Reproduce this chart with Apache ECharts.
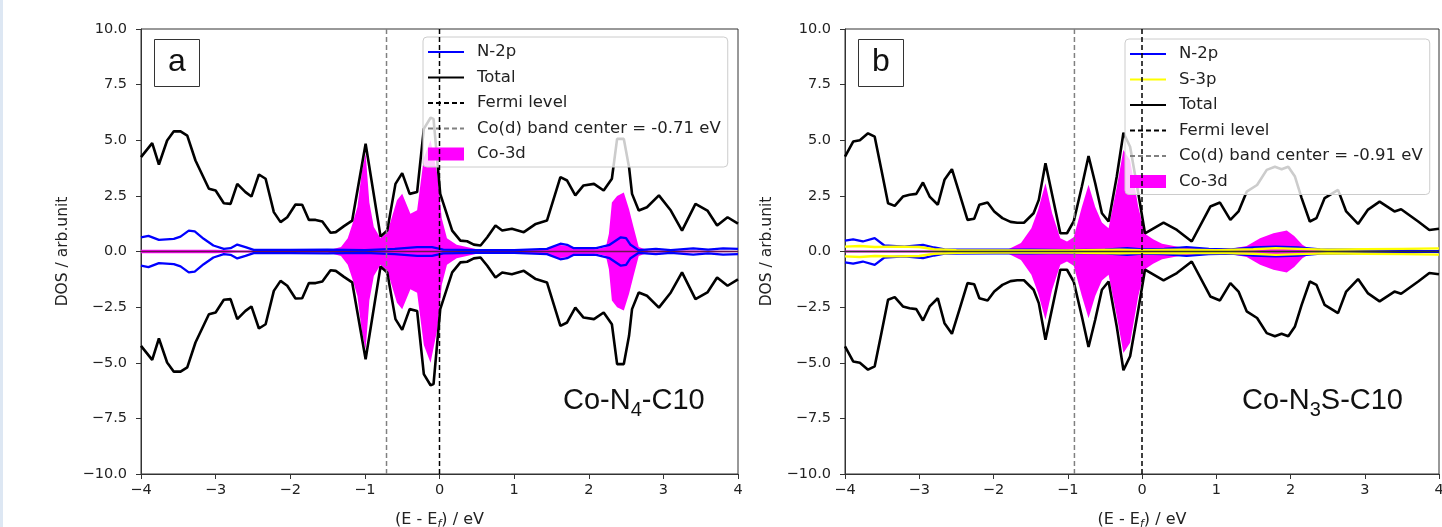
<!DOCTYPE html>
<html>
<head>
<meta charset="utf-8">
<script src="https://cdn.jsdelivr.net/npm/echarts@6/dist/echarts.min.js"></script>
<style>
  html, body { margin: 0; padding: 0; background: #fff; }
  #strip { position: absolute; left: 0; top: 0; width: 3px; height: 527px; background: #dde7f3; }
  #main { position: absolute; left: 0; top: 0; width: 1442px; height: 527px; }
</style>
</head>
<body>
<div id="strip"></div>
<div id="main"></div>
<script>
// ---- panel a : Co-N4-C10 (spin up values, spin down is the mirror) ----
var totalA = [[-4.00,4.24],[-3.85,4.87],[-3.76,3.91],[-3.65,4.99],[-3.56,5.40],[-3.47,5.40],[-3.38,5.21],[-3.27,4.09],[-3.09,2.82],[-3.00,2.74],[-2.89,2.17],[-2.80,2.14],[-2.71,3.04],[-2.60,2.67],[-2.52,2.47],[-2.42,3.46],[-2.33,3.27],[-2.22,1.77],[-2.13,1.32],[-2.04,1.54],[-1.93,2.11],[-1.84,2.10],[-1.75,1.42],[-1.66,1.42],[-1.57,1.35],[-1.46,0.84],[-1.39,0.87],[-1.28,1.14],[-1.17,1.39],[-0.99,4.84],[-0.79,0.67],[-0.70,0.94],[-0.59,3.04],[-0.50,3.52],[-0.40,2.59],[-0.30,2.67],[-0.21,5.51],[-0.12,6.01],[-0.08,5.96],[0.01,2.59],[0.17,0.94],[0.28,0.49],[0.37,0.46],[0.46,0.31],[0.55,0.27],[0.64,0.64],[0.75,1.17],[0.84,0.94],[0.97,1.02],[1.13,0.87],[1.29,1.24],[1.44,1.39],[1.62,3.34],[1.71,3.19],[1.82,2.52],[1.93,2.97],[2.07,3.04],[2.20,2.74],[2.31,3.27],[2.38,5.06],[2.47,5.06],[2.54,3.79],[2.58,2.59],[2.67,1.84],[2.78,1.99],[2.94,2.52],[3.10,1.84],[3.25,0.94],[3.43,2.14],[3.59,1.84],[3.72,1.17],[3.86,1.54],[4.00,1.25]];
var co3dA = [[-4.00,0.08],[-3.00,0.08],[-2.70,0.05],[-1.50,0.05],[-1.32,0.20],[-1.23,0.60],[-1.17,1.20],[-1.10,2.00],[-1.04,3.60],[-0.99,4.40],[-0.94,2.20],[-0.88,1.10],[-0.79,0.60],[-0.70,0.85],[-0.57,2.30],[-0.50,2.60],[-0.39,1.70],[-0.30,1.85],[-0.21,4.20],[-0.12,5.00],[-0.03,3.50],[0.03,1.50],[0.10,0.60],[0.23,0.30],[0.50,0.10],[1.40,0.10],[1.60,0.30],[1.80,0.20],[2.10,0.10],[2.23,0.20],[2.27,0.80],[2.31,2.20],[2.38,2.50],[2.47,2.65],[2.54,1.90],[2.60,1.10],[2.67,0.20],[2.80,0.05],[4.00,0.05]];
var n2pA = [[-4.00,0.64],[-3.90,0.70],[-3.76,0.52],[-3.56,0.57],[-3.47,0.67],[-3.36,0.94],[-3.28,0.90],[-3.16,0.57],[-3.03,0.27],[-2.89,0.12],[-2.80,0.15],[-2.71,0.31],[-2.60,0.20],[-2.49,0.07],[-2.00,0.07],[-1.50,0.08],[-1.00,0.06],[-0.60,0.12],[-0.30,0.20],[-0.10,0.20],[0.05,0.08],[0.50,0.06],[1.00,0.06],[1.44,0.12],[1.62,0.35],[1.71,0.30],[1.80,0.15],[2.10,0.15],[2.28,0.30],[2.43,0.64],[2.50,0.60],[2.56,0.30],[2.67,0.06],[2.90,0.12],[3.10,0.06],[3.40,0.14],[3.60,0.08],[3.80,0.14],[4.00,0.12]];
var bandCenterA = -0.71;

// ---- panel b : Co-N3S-C10 ----
var totalB = [[-4.00,4.26],[-3.89,4.94],[-3.80,5.00],[-3.69,5.31],[-3.60,5.16],[-3.51,3.67],[-3.42,2.17],[-3.33,2.05],[-3.22,2.47],[-3.13,2.55],[-3.04,2.59],[-2.95,3.10],[-2.86,2.47],[-2.75,2.10],[-2.66,3.22],[-2.56,3.70],[-2.46,2.62],[-2.35,1.42],[-2.26,1.47],[-2.19,2.10],[-2.08,2.20],[-1.99,1.80],[-1.88,1.50],[-1.77,1.33],[-1.68,1.29],[-1.59,1.29],[-1.46,1.72],[-1.39,2.32],[-1.30,3.97],[-1.19,2.24],[-1.10,0.82],[-1.01,0.82],[-0.92,1.35],[-0.81,2.92],[-0.72,4.29],[-0.63,3.07],[-0.54,1.72],[-0.45,1.35],[-0.34,3.37],[-0.25,5.34],[-0.16,4.71],[-0.05,2.62],[0.04,0.82],[0.29,1.30],[0.47,0.97],[0.67,0.45],[0.92,2.02],[1.05,2.20],[1.19,1.42],[1.30,1.80],[1.41,2.69],[1.55,2.99],[1.68,3.67],[1.79,3.81],[1.88,3.70],[1.97,3.81],[2.06,3.37],[2.15,2.40],[2.26,1.35],[2.35,1.50],[2.46,2.40],[2.64,2.77],[2.75,1.80],[2.91,1.24],[3.04,1.87],[3.20,2.24],[3.40,1.80],[3.49,1.90],[3.72,1.35],[3.87,0.97],[4.00,1.02]];
var co3dB = [[-4.00,0.05],[-2.00,0.05],[-1.80,0.10],[-1.63,0.38],[-1.49,1.05],[-1.40,1.87],[-1.30,3.07],[-1.21,1.72],[-1.10,0.60],[-1.01,0.45],[-0.92,0.64],[-0.81,2.00],[-0.72,3.00],[-0.63,2.00],[-0.54,1.30],[-0.45,1.05],[-0.34,2.90],[-0.25,4.56],[-0.16,4.10],[-0.05,2.00],[0.04,0.80],[0.15,0.55],[0.27,0.35],[0.50,0.20],[0.90,0.15],[1.20,0.12],[1.41,0.25],[1.59,0.60],[1.77,0.82],[1.95,0.94],[2.05,0.70],[2.16,0.30],[2.26,0.10],[2.60,0.05],[4.00,0.03]];
var n2pB = [[-4.00,0.49],[-3.89,0.55],[-3.76,0.45],[-3.60,0.60],[-3.47,0.27],[-3.20,0.22],[-2.95,0.30],[-2.80,0.18],[-2.66,0.10],[-2.00,0.08],[-1.50,0.08],[-1.00,0.06],[-0.50,0.08],[-0.20,0.15],[0.00,0.10],[0.30,0.12],[0.60,0.20],[0.90,0.12],[1.20,0.10],[1.50,0.18],[1.80,0.22],[2.10,0.18],[2.40,0.10],[2.80,0.08],[3.20,0.06],[3.60,0.04],[3.80,0.02],[4.00,0.02]];
var s3pB = [[-4.00,0.22],[-3.80,0.25],[-3.60,0.20],[-3.30,0.22],[-3.00,0.20],[-2.80,0.10],[-2.50,0.06],[-2.00,0.05],[-1.00,0.05],[-0.30,0.08],[0.00,0.06],[0.50,0.08],[1.00,0.06],[1.50,0.10],[1.80,0.15],[2.10,0.12],[2.50,0.08],[3.00,0.10],[3.50,0.12],[4.00,0.14]];
var bandCenterB = -0.91;

var xTicks = [-4, -3, -2, -1, 0, 1, 2, 3, 4];
var yTicks = [-10, -7.5, -5, -2.5, 0, 2.5, 5, 7.5, 10];

var FONT = 'DejaVu Sans';
var MINUS = '\u2212';

function mirror(arr) {
    return arr.map(function (p) { return [p[0], -p[1]]; });
}

function xAxisFor(i) {
    return {
        type: 'value', gridIndex: i,
        min: xTicks[0], max: xTicks[xTicks.length - 1], interval: 1,
        name: '(E - E{f|f}) / eV', nameLocation: 'middle', nameGap: 36,
        nameTextStyle: { fontFamily: FONT, fontSize: 16, color: '#222', lineHeight: 20,
            rich: { f: { fontFamily: FONT, fontSize: 11, fontStyle: 'italic', color: '#222', lineHeight: 12, verticalAlign: 'bottom' } } },
        axisLine: { show: true, onZero: false, lineStyle: { color: '#333', width: 1 } },
        axisTick: { show: true, length: 5, lineStyle: { color: '#333' } },
        axisLabel: { margin: 9, fontFamily: FONT, fontSize: 14.5, color: '#222',
            formatter: function (v) { return v < 0 ? MINUS + Math.abs(v) : String(v); } },
        splitLine: { show: false }
    };
}

function yAxisFor(i) {
    return {
        type: 'value', gridIndex: i,
        min: yTicks[0], max: yTicks[yTicks.length - 1], interval: 2.5,
        name: 'DOS / arb.unit', nameLocation: 'middle', nameGap: 70, nameRotate: 90,
        nameTextStyle: { fontFamily: FONT, fontSize: 15.5, color: '#222' },
        axisLine: { show: true, onZero: false, lineStyle: { color: '#333', width: 1 } },
        axisTick: { show: true, length: 5, lineStyle: { color: '#333' } },
        axisLabel: { margin: 14, fontFamily: FONT, fontSize: 14.5, color: '#222',
            formatter: function (v) { return (v < 0 ? MINUS : '') + Math.abs(v).toFixed(1); } },
        splitLine: { show: false }
    };
}

function lineSeries(name, data, i, color, width) {
    return {
        type: 'line', name: name, xAxisIndex: i, yAxisIndex: i, data: data,
        symbol: 'none', color: color, z: 3, silent: true,
        lineStyle: { color: color, width: width }
    };
}

function fillSeries(name, data, i) {
    return {
        type: 'line', name: name, xAxisIndex: i, yAxisIndex: i, data: data,
        symbol: 'none', color: '#ff00ff', z: 1, silent: true,
        lineStyle: { width: 0 },
        areaStyle: { color: '#ff00ff', opacity: 1 }
    };
}

// thin horizontal line on DOS = 0
function zeroLine(i, color) {
    return {
        type: 'line', name: 'zero', xAxisIndex: i, yAxisIndex: i,
        data: [[xTicks[0], 0], [xTicks[xTicks.length - 1], 0]],
        symbol: 'none', z: 3, silent: true, lineStyle: { color: color, width: 1.3 }
    };
}

function vline(name, x, i, color) {
    return {
        type: 'line', name: name, xAxisIndex: i, yAxisIndex: i,
        data: [[x, yTicks[0]], [x, yTicks[yTicks.length - 1]]],
        symbol: 'none', color: color, z: 4, silent: true,
        lineStyle: { color: color, width: 1.5, type: [5, 3] }
    };
}

// legend entries for line series: hide the marker dot, keep the line
function lineItem(name) {
    return { name: name, itemStyle: { opacity: 0 } };
}

function legendAt(left, top, names) {
    var data = names.map(lineItem);
    data.push({ name: 'Co-3d', icon: 'rect' });
    return {
        left: left, top: top, orient: 'vertical',
        padding: [6, 7, 4, 4], itemGap: 7.5, itemWidth: 36, itemHeight: 13,
        backgroundColor: 'rgba(255,255,255,0.8)', borderColor: '#cccccc', borderWidth: 1, borderRadius: 4,
        selectedMode: false,
        textStyle: { fontFamily: FONT, fontSize: 16.5, color: '#222', lineHeight: 18, padding: [0, 0, 0, 8] },
        data: data
    };
}

function panelLetter(letter, left) {
    return {
        type: 'group', left: left, top: 39,
        children: [
            { type: 'rect', shape: { x: 0, y: 0, width: 45, height: 47 }, style: { fill: '#fff', stroke: '#333', lineWidth: 1 } },
            { type: 'text', x: 22.5, y: 23, style: { text: letter, fontFamily: 'Liberation Sans', fontSize: 32, fill: '#111', align: 'center', verticalAlign: 'middle' } }
        ]
    };
}

function formula(pre, sub, post, left) {
    return {
        type: 'text', left: left, top: 386,
        style: {
            text: '{m|' + pre + '}{s|' + sub + '}{m|' + post + '}',
            rich: {
                m: { fontFamily: 'Liberation Sans', fontSize: 29, lineHeight: 40, fill: '#111' },
                s: { fontFamily: 'Liberation Sans', fontSize: 20, lineHeight: 6, verticalAlign: 'bottom', fill: '#111' }
            }
        }
    };
}

var bandNameA = 'Co(d) band center = -0.71 eV';
var bandNameB = 'Co(d) band center = -0.91 eV';

var option = {
    animation: false,
    backgroundColor: 'transparent',
    grid: [
        { left: 141, top: 29, width: 597, height: 445, show: true, borderColor: '#333', borderWidth: 1, outerBoundsMode: 'none' },
        { left: 845, top: 29, width: 594, height: 445, show: true, borderColor: '#333', borderWidth: 1, outerBoundsMode: 'none' }
    ],
    xAxis: [xAxisFor(0), xAxisFor(1)],
    yAxis: [yAxisFor(0), yAxisFor(1)],
    legend: [
        legendAt(423, 37, ['N-2p', 'Total', 'Fermi level', bandNameA]),
        legendAt(1125, 39, ['N-2p', 'S-3p', 'Total', 'Fermi level', bandNameB])
    ],
    series: [
        // panel a
        fillSeries('Co-3d', co3dA, 0),
        fillSeries('Co-3d', mirror(co3dA), 0),
        zeroLine(0, '#6a1450'),
        lineSeries('N-2p', n2pA, 0, '#0000ff', 2.3),
        lineSeries('N-2p', mirror(n2pA), 0, '#0000ff', 2.3),
        lineSeries('Total', totalA, 0, '#000000', 2.6),
        lineSeries('Total', mirror(totalA), 0, '#000000', 2.6),
        vline('Fermi level', 0, 0, '#000000'),
        vline(bandNameA, bandCenterA, 0, '#808080'),
        // panel b
        fillSeries('Co-3d', co3dB, 1),
        fillSeries('Co-3d', mirror(co3dB), 1),
        lineSeries('N-2p', n2pB, 1, '#0000ff', 2.3),
        lineSeries('N-2p', mirror(n2pB), 1, '#0000ff', 2.3),
        lineSeries('S-3p', s3pB, 1, '#ffff00', 2.4),
        lineSeries('S-3p', mirror(s3pB), 1, '#ffff00', 2.4),
        lineSeries('Total', totalB, 1, '#000000', 2.6),
        lineSeries('Total', mirror(totalB), 1, '#000000', 2.6),
        zeroLine(1, '#333'),
        vline('Fermi level', 0, 1, '#000000'),
        vline(bandNameB, bandCenterB, 1, '#808080')
    ],
    graphic: [
        panelLetter('a', 154),
        panelLetter('b', 858),
        formula('Co-N', '4', '-C10', 563),
        formula('Co-N', '3', 'S-C10', 1242)
    ]
};

var chart = echarts.init(document.getElementById('main'), null, { renderer: 'canvas' });
chart.setOption(option);
</script>
</body>
</html>
